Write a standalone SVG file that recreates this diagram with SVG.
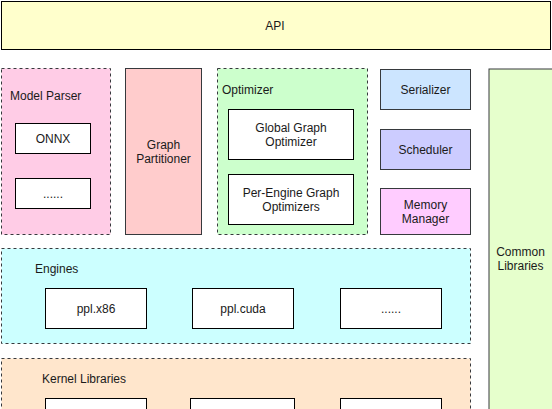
<svg xmlns="http://www.w3.org/2000/svg" width="552" height="409" viewBox="0 0 552 409">
<style>
text{font-family:"Liberation Sans",Arial,sans-serif;font-size:12px;fill:#1a1a1a}
.c{text-anchor:middle}
.dash{stroke:#36393d;stroke-width:1;stroke-dasharray:3 3}
.solid{stroke:#36393d;stroke-width:1}
.white{fill:#ffffff;stroke:#000000;stroke-width:1}
</style>
<rect width="552" height="409" fill="#ffffff"/>
<g id="api">
<rect x="1.5" y="1.5" width="549" height="48" fill="#FFFFCC" stroke="#000000"/>
<text class="c" x="275" y="30">API</text>
</g>
<g id="model-parser">
<rect class="dash" x="1.5" y="68.5" width="109" height="166" fill="#FFCCE6"/>
<text x="10" y="100">Model Parser</text>
</g>
<g id="onnx">
<rect class="white" x="15.5" y="123.5" width="75" height="30"/>
<text class="c" x="53" y="143">ONNX</text>
</g>
<g id="parser-more">
<rect class="white" x="15.5" y="178.5" width="75" height="30"/>
<text class="c" x="53" y="198">......</text>
</g>
<g id="graph-partitioner">
<rect class="solid" x="125.5" y="68.5" width="76" height="166" fill="#FFCCCC"/>
<text class="c" x="163.5" y="149">Graph</text>
<text class="c" x="163.5" y="163">Partitioner</text>
</g>
<g id="optimizer">
<rect class="dash" x="217.5" y="68.5" width="150" height="166" fill="#CCFFCC"/>
<text x="222" y="94">Optimizer</text>
</g>
<g id="global-graph-optimizer">
<rect class="white" x="228.5" y="109.5" width="125" height="50"/>
<text class="c" x="291" y="132">Global Graph</text>
<text class="c" x="291" y="146">Optimizer</text>
</g>
<g id="per-engine-graph-optimizers">
<rect class="white" x="228.5" y="174.5" width="125" height="50"/>
<text class="c" x="291" y="197">Per-Engine Graph</text>
<text class="c" x="291" y="211">Optimizers</text>
</g>
<g id="serializer">
<rect class="solid" x="380.5" y="69.5" width="90" height="40" fill="#CCE5FF"/>
<text class="c" x="425.5" y="94">Serializer</text>
</g>
<g id="scheduler">
<rect class="solid" x="380.5" y="129.5" width="90" height="40" fill="#CCCCFF"/>
<text class="c" x="425.5" y="154">Scheduler</text>
</g>
<g id="memory-manager">
<rect class="solid" x="380.5" y="188.5" width="90" height="46" fill="#FFCCFF"/>
<text class="c" x="425.5" y="209">Memory</text>
<text class="c" x="425.5" y="223">Manager</text>
</g>
<g id="common-libraries">
<rect class="solid" x="489" y="69" width="70" height="400" fill="#E6FFCC"/>
<text class="c" x="520.5" y="256">Common</text>
<text class="c" x="520.5" y="270">Libraries</text>
</g>
<g id="engines">
<rect class="dash" x="1.5" y="248.5" width="469" height="95" fill="#CCFFFF"/>
<text x="35" y="273">Engines</text>
</g>
<g id="ppl-x86">
<rect class="white" x="45.5" y="288.5" width="101" height="40"/>
<text class="c" x="96" y="313">ppl.x86</text>
</g>
<g id="ppl-cuda">
<rect class="white" x="192.5" y="288.5" width="101" height="40"/>
<text class="c" x="243" y="313">ppl.cuda</text>
</g>
<g id="engines-more">
<rect class="white" x="340.5" y="288.5" width="101" height="40"/>
<text class="c" x="391" y="313">......</text>
</g>
<g id="kernel-libraries">
<rect class="dash" x="1.5" y="358.5" width="469" height="95" fill="#FFE6CC"/>
<text x="42" y="383">Kernel Libraries</text>
</g>
<g id="kernel-1">
<rect class="white" x="45.5" y="398.5" width="101" height="40"/>
</g>
<g id="kernel-2">
<rect class="white" x="190.5" y="398.5" width="104" height="40"/>
</g>
<g id="kernel-3">
<rect class="white" x="340.5" y="398.5" width="101" height="40"/>
</g>
<g id="connectors"></g>
</svg>
